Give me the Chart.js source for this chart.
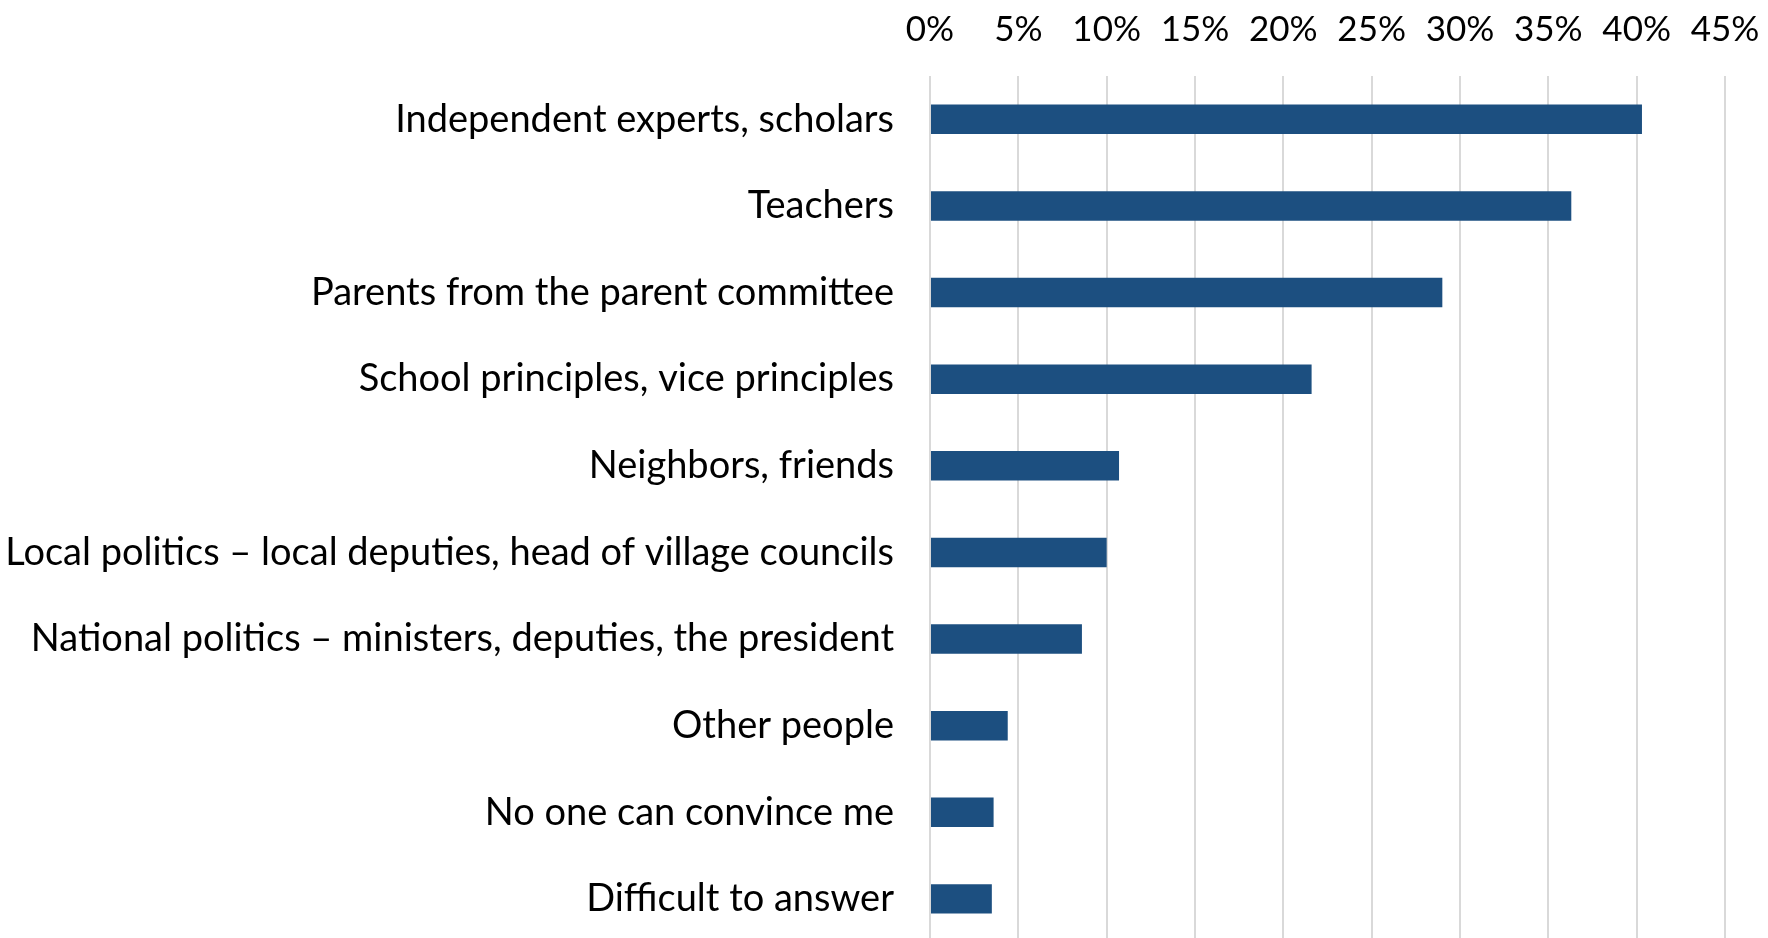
<!DOCTYPE html>
<html>
<head>
<meta charset="utf-8">
<script src="https://cdn.jsdelivr.net/npm/chart.js@4"></script>
<style>
  html, body { margin: 0; padding: 0; background: #fff; overflow: hidden; }
</style>
</head>
<body>
<canvas id="myChart" width="1768" height="965"></canvas>
<script>
var categories = [
    'Independent experts, scholars',
    'Teachers',
    'Parents from the parent committee',
    'School principles, vice principles',
    'Neighbors, friends',
    'Local politics \u2013 local deputies, head of village councils',
    'National politics \u2013 ministers, deputies, the president',
    'Other people',
    'No one can convince me',
    'Difficult to answer'
];
var shares = [40.3, 36.3, 29.0, 21.6, 10.7, 10.0, 8.6, 4.4, 3.6, 3.5];
var tickValues = [0, 5, 10, 15, 20, 25, 30, 35, 40, 45];

var ctx = document.getElementById("myChart").getContext("2d");

// the canvas is a bit taller than the window, the bottom of the plot is cut off like in the original
var myChart = new Chart(ctx, {
    type: 'bar',
    data: {
        labels: categories,
        datasets: [{
            label: 'Share',
            data: shares,
            backgroundColor: '#1c4f80',
            barPercentage: 0.34,
            categoryPercentage: 1
        }]
    },
    options: {
        indexAxis: 'y',
        responsive: false,
        maintainAspectRatio: false,
        animation: false,
        layout: { padding: { top: 9, right: 43, left: 0, bottom: 0 } },
        plugins: {
            legend: { display: false },
            tooltip: { enabled: false }
        },
        scales: {
            x: {
                position: 'top',
                min: 0,
                max: 45,
                afterBuildTicks: function (scale) {
                    scale.ticks = tickValues.map(function (v) { return { value: v }; });
                },
                border: { display: false },
                grid: { color: '#d9d9d9', lineWidth: 2, drawTicks: true, tickLength: 25, tickColor: 'rgba(0,0,0,0)' },
                ticks: {
                    padding: 0,
                    color: '#000',
                    font: { family: 'Lato', size: 35 },
                    callback: function (v) { return v + '%'; }
                }
            },
            y: {
                afterFit: function (scale) { scale.width = 930; },
                border: { display: false },
                grid: { display: false, tickLength: 36 },
                ticks: {
                    padding: 0,
                    color: '#000',
                    font: { family: 'Lato', size: 38 }
                }
            }
        }
    }
});
</script>
</body>
</html>
